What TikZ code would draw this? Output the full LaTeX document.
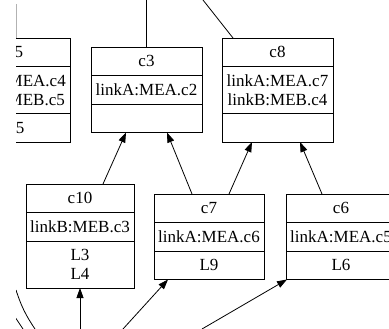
\documentclass[tikz,border=0pt]{standalone}
\usepackage{fontspec}
\setmainfont{Liberation Serif}
\usetikzlibrary{arrows.meta,positioning}

\tikzset{
  part/.style={draw, line width=0.8pt, inner sep=0pt, outer sep=0pt,
    minimum height=28.5pt, align=center,
    font=\fontsize{17}{18.5}\selectfont},
  tall/.style={part, minimum height=47pt},
  edge/.style={line width=0.8pt, -{Triangle[length=10pt,width=7pt]}},
  link/.style={line width=0.8pt},
}

\begin{document}
\begin{tikzpicture}[x=1pt,y=-1pt]
\useasboundingbox (0,0) rectangle (389,329);
\clip (16,0) rectangle (389,329);

% records, top row first
\node[part, minimum width=111pt, anchor=north] (c5) at (15,38) {c5};
\node[tall, minimum width=111pt, below=0pt of c5] (c5m) {linkA:MEA.c4\\linkB:MEB.c5};
\node[part, minimum width=111pt, below=0pt of c5m] (c5f) {L5};

\node[part, minimum width=111pt, anchor=north] (c3) at (146.5,47) {c3};
\node[part, minimum width=111pt, below=0pt of c3] (c3m) {linkA:MEA.c2};
\node[part, minimum width=111pt, below=0pt of c3m] (c3f) {};

\node[part, minimum width=111pt, anchor=north] (c8) at (277.5,38) {c8};
\node[tall, minimum width=111pt, below=0pt of c8] (c8m) {linkA:MEA.c7\\linkB:MEB.c4};
\node[part, minimum width=111pt, below=0pt of c8m] (c8f) {};

\node[part, minimum width=108pt, anchor=north] (c10) at (80,184) {c10};
\node[part, minimum width=108pt, below=0pt of c10] (c10m) {linkB:MEB.c3};
\node[tall, minimum width=108pt, below=0pt of c10m] (c10f) {L3\\L4};

\node[part, minimum width=110pt, anchor=north] (c7) at (209,194) {c7};
\node[part, minimum width=110pt, below=0pt of c7] (c7m) {linkA:MEA.c6};
\node[part, minimum width=110pt, below=0pt of c7m] (c7f) {L9};

\node[part, minimum width=110pt, anchor=north] (c6) at (341,194) {c6};
\node[part, minimum width=110pt, below=0pt of c6] (c6m) {linkA:MEA.c5};
\node[part, minimum width=110pt, below=0pt of c6m] (c6f) {L6};

% loose ends off the picture
\coordinate (t3) at (146.5,0);
\coordinate (t8) at (203,0);
\coordinate (t5) at (16.3,4);
\coordinate (b10) at (80,329);
\coordinate (b7) at (123,329);
\coordinate (b6) at (202,329);
\coordinate (la) at (16,290);
\coordinate (lb) at (35,329);
\coordinate (lc) at (15,317);
\coordinate (ld) at (23,329);

\draw[link] (c3.north) -- (t3);
\draw[link] ([xshift=-44.5pt]c8.north) -- (t8);
\draw[link, gray!60] (t5) -- (t5 |- c5.north);

\draw[edge] ([xshift=23pt]c10.north) -- ([xshift=-20.5pt]c3f.south);
\draw[edge] ([xshift=-17pt]c7.north) -- ([xshift=20.5pt]c3f.south);
\draw[edge] ([xshift=20pt]c7.north) -- ([xshift=-25.5pt]c8f.south);
\draw[edge] ([xshift=-19pt]c6.north) -- ([xshift=22.5pt]c8f.south);

\draw[edge] (b10) -- (c10f.south);
\draw[edge] (b7) -- ([xshift=-41pt]c7f.south);
\draw[edge] (b6) -- ([xshift=1pt]c6f.south west);

\draw[link] (la) to[bend right=8] (lb);
\draw[link] (lc) -- (ld);

\end{tikzpicture}
\end{document}
